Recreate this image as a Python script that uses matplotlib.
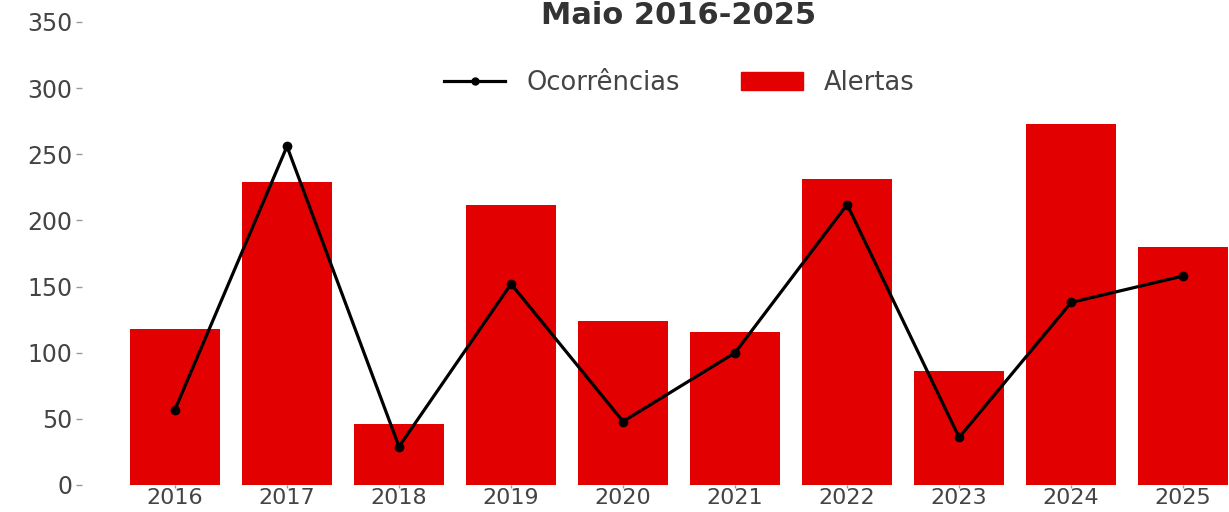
import matplotlib
matplotlib.use('Agg')
import matplotlib.pyplot as plt
from matplotlib.lines import Line2D
from matplotlib.patches import Patch

# valores
anos = ['2016', '2017', '2018', '2019', '2020', '2021', '2022', '2023', '2024', '2025']
alertas = [118, 229, 46, 212, 124, 116, 231, 86, 273, 180]
ocorrencias = [57, 256, 29, 152, 48, 100, 212, 36, 138, 158]
yticks = [0, 50, 100, 150, 200, 250, 300, 350]

W, H = 1229, 512
txt = '#444444'
red = '#e30000'

def main():
  fig = plt.figure(figsize=(W / 100, H / 100), dpi=100)
  # eixo vai alem da borda direita (figura cortada no original)
  ax = fig.add_axes([82 / W, 1 - 485 / H, 1202 / W, 463 / H])
  x = list(range(len(anos)))
  ax.bar(x, alertas, width=0.8, color=red, zorder=1)
  ax.plot(x, ocorrencias, color='black', linewidth=2.3, marker='o', markersize=6, zorder=2)
  ax.set_xlim(-0.83, 9.9)
  ax.set_ylim(0, 350)
  ax.set_yticks(yticks)
  ax.set_xticks(x)
  ax.set_xticklabels(anos)
  for s in ax.spines.values():
    s.set_visible(False)
  ax.tick_params(axis='both', labelsize=17, labelcolor=txt, color='#999999', length=4, width=1)
  ax.tick_params(axis='x', pad=0.5, length=2, labelsize=16)
  ax.tick_params(axis='y', pad=3)

  fig.text(679 / W, 1 - 24 / H, 'Maio 2016-2025', ha='center', va='baseline',
           fontsize=22, fontweight='bold', color='#333333')

  handles = [Line2D([], [], color='black', linewidth=2.3, marker='o', markersize=5),
             Patch(color=red)]
  fig.legend(handles, ['Ocorrências', 'Alertas'], loc='center', ncol=2, frameon=False,
             bbox_to_anchor=(679 / W, 1 - 83 / H), fontsize=18.5, labelcolor=txt,
             handlelength=2.4, handletextpad=0.8, columnspacing=2.4)
  fig.savefig('out.png', dpi=100)

if __name__ == "__main__":
  main()
